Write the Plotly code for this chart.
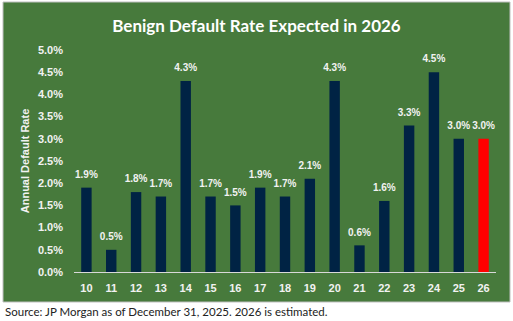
import plotly.graph_objects as go

years = ["10", "11", "12", "13", "14", "15", "16", "17", "18", "19", "20", "21", "22", "23", "24", "25", "26"]
rates = [1.9, 0.5, 1.8, 1.7, 4.3, 1.7, 1.5, 1.9, 1.7, 2.1, 4.3, 0.6, 1.6, 3.3, 4.5, 3.0, 3.0]
labels = [f"{v:.1f}%" for v in rates]
colors = ["#002344"] * (len(years) - 1) + ["#ff0000"]
yticks = [0.0, 0.5, 1.0, 1.5, 2.0, 2.5, 3.0, 3.5, 4.0, 4.5, 5.0]
ytick_text = [f"{v:.1f}%" for v in yticks]

W, H = 513, 321
green = "#477a3c"
lab_font = "Liberation Sans, Arial, sans-serif"

fig = go.Figure()
fig.add_trace(go.Bar(
    x=years, y=rates, marker=dict(color=colors, line=dict(width=0)),
    width=0.42, hoverinfo="skip",
))
fig.add_trace(go.Scatter(
    x=years, y=rates, mode="markers+text", text=labels, textposition="top center",
    marker=dict(size=10, color="rgba(0,0,0,0)"), cliponaxis=False,
    textfont=dict(color="#f2f2f2", size=10, family=lab_font, weight="bold"),
    hoverinfo="skip",
))

fig.add_shape(type="rect", xref="paper", yref="paper",
              x0=-71 / 422, x1=(510 - 74) / 422, y0=(272 - 302) / 222, y1=(272 - 2) / 222,
              fillcolor=green, line=dict(color="#bfbfbf", width=1), layer="below")

fig.update_layout(
    width=W, height=H,
    margin=dict(l=74, r=17, t=50, b=49),
    paper_bgcolor="white", plot_bgcolor="rgba(0,0,0,0)",
    showlegend=False,
    title=dict(text="<b>Benign Default Rate Expected in 2026</b>", x=0.5, xanchor="center",
               y=(321 - 26) / 321, yanchor="middle",
               font=dict(family="Lato, Liberation Sans, sans-serif", size=17, color="white")),
    xaxis=dict(range=[-0.5, len(years) - 0.5], showgrid=False, showline=True,
               linecolor="#d9d9d9", linewidth=1,
               ticks="", tickfont=dict(family=lab_font, size=11, color="#f2f2f2", weight="bold"),
               ticklabelstandoff=6, fixedrange=True),
    yaxis=dict(range=[0, 5.0], tickvals=yticks, ticktext=ytick_text, showgrid=False,
               zeroline=False, showline=False, ticks="",
               tickfont=dict(family=lab_font, size=11, color="#f2f2f2", weight="bold"),
               ticklabelstandoff=10,
               title=dict(text="<b>Annual Default Rate</b>", standoff=6,
                          font=dict(family=lab_font, size=11, color="#f2f2f2")),
               fixedrange=True),
    bargap=0.58,
)

fig.add_annotation(text="Source: JP Morgan as of December 31, 2025. 2026 is estimated.",
                   xref="paper", yref="paper", x=-71 / 422, y=(272 - 311) / 222,
                   xanchor="left", yanchor="middle", showarrow=False,
                   font=dict(family="Lato, Liberation Sans, sans-serif", size=11.5, color="#222222"))

fig.write_html("out.html")
